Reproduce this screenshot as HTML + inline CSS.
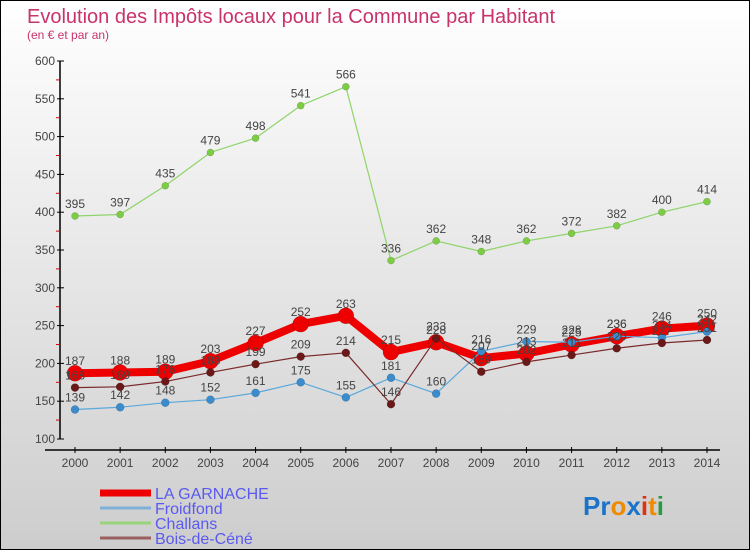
<!DOCTYPE html>
<html><head><meta charset="utf-8"><style>
body{margin:0}
#wrap{width:750px;height:550px;position:relative;font-family:"Liberation Sans",sans-serif}
</style></head><body>
<div id="wrap">
<svg id="svg" width="750" height="550" xmlns="http://www.w3.org/2000/svg">
<defs><linearGradient id="bg" x1="0" y1="0" x2="0" y2="1"><stop offset="0" stop-color="#ffffff"/><stop offset="1" stop-color="#cdcdcd"/></linearGradient></defs>
<rect x="0.5" y="0.5" width="749" height="549" fill="url(#bg)" stroke="#000"/>
<text x="27" y="23" font-size="20" fill="#c8336b">Evolution des Impôts locaux pour la Commune par Habitant</text>
<text x="27" y="39" font-size="12" fill="#c8336b">(en € et par an)</text>
<g id="axes"></g><g id="series"></g><g id="legend"></g>
<text x="583" y="515" font-size="26" font-weight="bold"><tspan fill="#1a73c9">Pr</tspan><tspan fill="#f08a00">o</tspan><tspan fill="#1a73c9">x</tspan><tspan fill="#e03010">i</tspan><tspan fill="#f08a00">t</tspan><tspan fill="#2a9a40">i</tspan></text>
</svg></div>
<script>
const years=[2000,2001,2002,2003,2004,2005,2006,2007,2008,2009,2010,2011,2012,2013,2014];
const yTicks=[100,150,200,250,300,350,400,450,500,550,600];
const garnache=[187,188,189,203,227,252,263,215,228,207,213,225,236,246,250];
const froidfond=[139,142,148,152,161,175,155,181,160,216,229,228,236,234,242];
const challans=[395,397,435,479,498,541,566,336,362,348,362,372,382,400,414];
const boisdecene=[168,169,176,188,199,209,214,146,233,189,202,211,220,227,231];
const NS="http://www.w3.org/2000/svg";
function X(i){return 75+i*(707-75)/(years.length-1);}
function Y(v){return 439-(v-100)*(439-61)/500;}
function mk(tag,attrs,parent){const e=document.createElementNS(NS,tag);for(const k in attrs)e.setAttribute(k,attrs[k]);parent.appendChild(e);return e;}
const ax=document.getElementById('axes');
let l=mk('line',{x1:60,y1:61,x2:60,y2:439,stroke:'#000','stroke-width':1.5},ax);


l=mk('line',{x1:45,y1:450,x2:720,y2:450,stroke:'#000','stroke-width':1.5},ax);


yTicks.forEach((t,i)=>{
  mk('line',{x1:57,y1:Y(t),x2:64,y2:Y(t),stroke:'#000'},ax);
  if(i<yTicks.length-1)mk('line',{x1:56,y1:Y(t+25),x2:60,y2:Y(t+25),stroke:'#d00'},ax);
  const tx=mk('text',{x:55,y:Y(t)+4,'font-size':12,fill:'#444','text-anchor':'end'},ax);
  tx.textContent=t;
  
  
});
years.forEach((y,i)=>{
  mk('line',{x1:X(i),y1:447,x2:X(i),y2:453,stroke:'#000'},ax);
  const tx=mk('text',{x:X(i),y:467,'font-size':12,fill:'#444','text-anchor':'middle'},ax);
  tx.textContent=y;
  
  
});
const sg=document.getElementById('series');
const defs=[
 {name:'challans',data:challans,color:'#8fd46a',w:1.2,r:3.5,fill:'#7ccc44'},
 {name:'bois-de-cene',data:boisdecene,color:'#7a2a2a',w:1.2,r:4,fill:'#6a1818'},
 {name:'froidfond',data:froidfond,color:'#5aa8dc',w:1.2,r:4,fill:'#3a8ccc'},
 {name:'la-garnache',data:garnache,color:'#ee0000',w:8,r:8,fill:'#ee0000'}];
const order=[3,2,1,0];
order.forEach(k=>{const s=defs[k];
  const g=mk('g',{},sg);
  
  
  const p=mk('polyline',{points:s.data.map((v,i)=>X(i)+','+Y(v)).join(' '),fill:'none',stroke:s.color,'stroke-width':s.w,'stroke-linejoin':'round'},g);
  
  
  s.data.forEach((v,i)=>{
    const c=mk('circle',{cx:X(i),cy:Y(v),r:s.r,fill:s.fill,stroke:'rgba(0,0,0,0.25)','stroke-width':0.5},g);
    
    
  });
});
defs.forEach(s=>{
  s.data.forEach((v,i)=>{
    const t=mk('text',{x:X(i),y:Y(v)-8,'font-size':12,fill:'#444','text-anchor':'middle'},sg);
    t.textContent=v;
    
    
  });
});
const lg=document.getElementById('legend');
const leg=[['LA GARNACHE','#ee0000',7],['Froidfond','#7fb0d8',3],['Challans','#98d47a',3],['Bois-de-Céné','#9a6060',3]];
leg.forEach((e,i)=>{const y=493+i*15;
  const g=mk('g',{},lg);
  
  
  mk('line',{x1:100,y1:y,x2:151,y2:y,stroke:e[1],'stroke-width':e[2]},g);
  const t=mk('text',{x:155,y:y+6,'font-size':16,fill:'#5a5af0'},g);
  t.textContent=e[0];
});
</script>
</body></html>
